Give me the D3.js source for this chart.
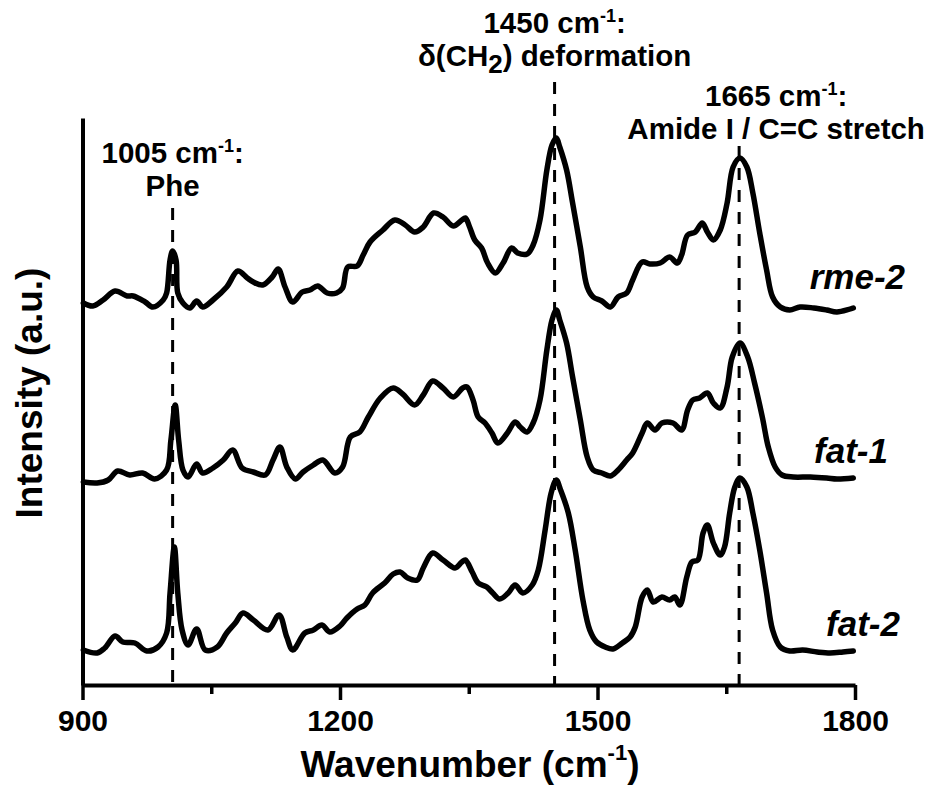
<!DOCTYPE html>
<html lang="en">
<head>
  <meta charset="utf-8">
  <title>Raman spectra</title>
  <style>
    body { margin: 0; background: #fff; }
    svg text { font-family: "Liberation Sans", Arial, Helvetica, sans-serif; font-weight: bold; fill: #000; }
  </style>
</head>
<body>
<div id="chart"></div>

<script src="https://cdn.jsdelivr.net/npm/d3@7"></script>
<script>
////////////////////////////////////////////////// DATA
// spectra are stacked with a vertical offset, intensity in arbitrary units
var seriesNames = ["rme-2", "fat-1", "fat-2"];
var xTicks = [900, 1200, 1500, 1800];
var xMinorTicks = [1050, 1350, 1650];
var bandWavenumbers = [1005, 1450, 1665];
var bandNames = ["Phe", "δ(CH_2) deformation", "Amide I / C=C stretch"];

var rme2 = [
  [901,38.2],[912,37.9],[924,38.5],[938,39.4],[952,38.9],[959,38.9],[973,38.3],[982,37.8],
  [994,38.5],[998,39.2],[1002,42.5],[1005,43.4],[1009,42.5],[1011,39.2],[1017,38.2],[1025,37.7],
  [1033,38.4],[1040,37.8],[1052,38.5],[1068,39.8],[1081,41.4],[1092,40.7],[1099,40.3],[1110,40.0],
  [1121,40.8],[1128,41.6],[1136,39.8],[1145,38.3],[1156,39.3],[1165,39.5],[1174,39.9],[1185,39.2],
  [1196,39.2],[1203,39.7],[1209,41.8],[1220,41.9],[1227,43.0],[1235,44.3],[1250,45.5],[1264,46.5],
  [1276,46.0],[1287,45.3],[1297,45.8],[1309,47.2],[1320,46.8],[1332,45.9],[1342,46.5],[1346,46.7],
  [1351,45.8],[1357,44.5],[1365,43.7],[1372,42.2],[1381,41.2],[1390,42.2],[1400,43.7],[1407,43.2],
  [1418,43.1],[1425,44.0],[1433,46.5],[1441,51.5],[1447,54.0],[1452,54.7],[1456,53.8],[1464,51.5],
  [1471,48.2],[1480,43.8],[1488,39.8],[1495,38.8],[1505,38.4],[1515,37.8],[1524,38.8],[1534,39.2],
  [1541,40.5],[1552,42.3],[1561,42.1],[1573,42.2],[1584,42.8],[1593,42.2],[1598,43.0],[1605,45.0],
  [1614,45.3],[1622,46.2],[1628,45.3],[1635,44.5],[1643,45.5],[1651,48.2],[1658,51.8],[1666,52.7],
  [1674,51.8],[1681,49.2],[1689,45.2],[1697,41.5],[1704,38.8],[1713,37.8],[1724,37.5],[1736,37.8],
  [1752,37.7],[1767,37.5],[1779,37.3],[1798,37.7]
];

var fat1 = [
  [901,20.3],[917,20.2],[930,20.5],[941,21.4],[955,21.0],[970,21.2],[984,20.6],[998,21.5],
  [1003,24.5],[1008,28.0],[1012,24.5],[1017,21.5],[1023,20.8],[1033,22.1],[1040,21.2],[1052,21.7],
  [1064,22.5],[1075,23.5],[1086,21.7],[1099,21.3],[1113,21.0],[1122,22.5],[1130,23.8],[1138,21.8],
  [1148,20.6],[1157,21.3],[1169,22.0],[1180,22.5],[1194,21.2],[1203,21.8],[1212,24.8],[1223,25.3],
  [1233,26.8],[1247,28.7],[1262,29.7],[1273,29.1],[1287,28.0],[1297,29.0],[1308,30.4],[1320,29.7],
  [1332,28.8],[1343,29.7],[1348,29.8],[1355,28.5],[1361,26.8],[1369,26.2],[1377,25.2],[1384,24.2],
  [1395,25.2],[1404,26.3],[1410,25.8],[1418,25.3],[1425,26.2],[1433,28.5],[1441,33.5],[1447,36.5],
  [1452,37.5],[1456,36.5],[1464,34.2],[1471,30.8],[1480,26.5],[1488,22.8],[1495,21.5],[1505,21.2],
  [1515,20.9],[1524,21.5],[1534,22.5],[1541,23.2],[1552,25.2],[1558,26.2],[1567,25.5],[1575,26.2],
  [1588,26.2],[1598,25.5],[1605,27.5],[1611,28.5],[1619,28.7],[1628,29.2],[1635,28.2],[1643,27.7],
  [1651,29.8],[1657,32.8],[1666,34.2],[1675,32.8],[1683,30.2],[1692,26.8],[1699,23.8],[1707,21.8],
  [1715,21.0],[1728,20.8],[1748,20.8],[1767,20.7],[1779,20.6],[1798,20.7]
];

var fat2 = [
  [901,3.5],[917,3.2],[926,3.7],[938,4.9],[947,4.3],[961,4.2],[975,3.4],[988,3.8],
  [998,5.2],[1002,9.2],[1007,13.8],[1011,9.2],[1016,5.5],[1023,4.0],[1033,5.6],[1043,3.5],
  [1057,3.8],[1068,5.2],[1078,6.2],[1087,7.2],[1099,6.5],[1116,5.5],[1129,7.0],[1138,4.8],
  [1145,3.5],[1159,5.2],[1169,5.5],[1179,6.0],[1188,5.3],[1200,5.9],[1208,6.7],[1220,7.6],
  [1229,8.0],[1238,9.2],[1252,10.2],[1262,11.1],[1270,11.3],[1279,10.7],[1290,10.5],[1297,11.7],
  [1308,13.2],[1320,12.5],[1334,11.7],[1342,12.3],[1346,12.5],[1354,11.3],[1361,10.2],[1371,9.8],
  [1378,9.2],[1386,8.6],[1396,9.2],[1404,10.0],[1413,9.2],[1424,10.0],[1431,11.5],[1439,15.5],
  [1446,19.2],[1452,20.5],[1457,19.5],[1466,17.2],[1474,13.5],[1483,8.5],[1491,5.5],[1499,4.3],
  [1509,3.8],[1518,3.6],[1529,4.2],[1538,4.8],[1544,5.8],[1552,8.8],[1558,9.5],[1565,8.3],
  [1575,8.8],[1584,8.5],[1590,8.8],[1596,8.0],[1604,10.8],[1610,12.3],[1617,12.5],[1623,15.2],
  [1628,16.0],[1635,14.2],[1643,13.0],[1648,13.8],[1654,17.2],[1660,19.8],[1666,20.7],[1674,19.8],
  [1681,17.2],[1689,13.5],[1697,9.2],[1704,5.5],[1713,3.8],[1724,3.4],[1739,3.5],[1756,3.3],
  [1771,3.2],[1786,3.3],[1798,3.4]
];

var spectra = [rme2, fat1, fat2];

////////////////////////////////////////////////// LAYOUT
var width = 930, height = 787;
var plotLeft = 82.5, plotRight = 855, plotTop = 118, plotBottom = 685;

// label placement (pixels)
var seriesLabelPos = [[905, 289], [888, 463], [900, 636]];
var bandLabelDx = [0, 0, 37];
var bandLabelBase = [163, 33, 106];   // baseline of first line
var bandLineTop = [208, 82, 146];     // where the dashed guide starts

////////////////////////////////////////////////// SETUP
var svg = d3.select("#chart").append("svg")
    .attr("width", width)
    .attr("height", height)
    .style("background", "#fff");

var x = d3.scaleLinear().domain([900, 1800]).range([plotLeft, plotRight]);
var y = d3.scaleLinear().domain([0, 56.7]).range([plotBottom, plotTop]);

// dashed guides
svg.append("g")
  .selectAll("line")
  .data(bandWavenumbers)
  .join("line")
    .attr("x1", d => x(d)).attr("x2", d => x(d))
    .attr("y1", (d, i) => bandLineTop[i])
    .attr("y2", plotBottom)
    .attr("stroke", "#000")
    .attr("stroke-width", 3)
    .attr("stroke-dasharray", "12,10");

// spectra
var line = d3.line()
    .x(d => x(d[0]))
    .y(d => y(d[1]))
    .curve(d3.curveCatmullRom.alpha(0.5));

svg.append("g")
  .selectAll("path")
  .data(spectra)
  .join("path")
    .attr("d", line)
    .attr("fill", "none")
    .attr("stroke", "#000")
    .attr("stroke-width", 5.5)
    .attr("stroke-linejoin", "round")
    .attr("stroke-linecap", "round");

// axes
var xAxis = svg.append("g")
    .attr("transform", `translate(0,${plotBottom})`)
    .call(d3.axisBottom(x).tickValues(xTicks).tickSize(15).tickSizeOuter(0)
      .tickPadding(10).tickFormat(d3.format("d")));

xAxis.select(".domain").attr("stroke-width", 4);
xAxis.selectAll(".tick line").attr("stroke-width", 3.5);
xAxis.selectAll(".tick text")
    .attr("font-size", 30)
    .style("font-family", "'Liberation Sans', Arial, sans-serif");

var xMinor = svg.append("g")
    .attr("transform", `translate(0,${plotBottom})`)
    .call(d3.axisBottom(x).tickValues(xMinorTicks).tickSize(9).tickFormat(""));
xMinor.select(".domain").remove();
xMinor.selectAll(".tick line").attr("stroke-width", 3.5);

var yAxis = svg.append("g")
    .attr("transform", `translate(${plotLeft},0)`)
    .call(d3.axisLeft(y).tickValues([]).tickSizeOuter(0));
yAxis.select(".domain").attr("stroke-width", 4);

// axis titles
var xTitle = svg.append("text")
    .attr("x", 470)
    .attr("y", 777)
    .attr("text-anchor", "middle")
    .attr("font-size", 37);
xTitle.append("tspan").text("Wavenumber (cm");
xTitle.append("tspan").attr("font-size", 22).attr("dy", -17).text("-1");
xTitle.append("tspan").attr("dy", 17).text(")");

svg.append("text")
    .attr("transform", "translate(42,393) rotate(-90)")
    .attr("text-anchor", "middle")
    .attr("font-size", 37)
    .text("Intensity (a.u.)");

// band annotations
bandWavenumbers.forEach(function(wn, i) {
  var cx = x(wn) + bandLabelDx[i];
  var base = bandLabelBase[i];

  var t1 = svg.append("text")
      .attr("x", cx).attr("y", base)
      .attr("text-anchor", "middle")
      .attr("font-size", 29.5);
  t1.append("tspan").text(wn + " cm");
  t1.append("tspan").attr("font-size", 18).attr("dy", -11).text("-1");
  t1.append("tspan").attr("dy", 11).text(":");

  var t2 = svg.append("text")
      .attr("x", cx).attr("y", base + 33)
      .attr("text-anchor", "middle")
      .attr("font-size", 29.5);
  var shift = 0;
  bandNames[i].split(/_(\d)/).forEach(function(part, j) {
    if (j % 2 === 1) {
      t2.append("tspan").attr("font-size", 26).attr("dy", 7).text(part);
      shift = -7;
    } else if (part) {
      t2.append("tspan").attr("dy", shift).text(part);
      shift = 0;
    }
  });
});

// series labels
svg.append("g")
  .selectAll("text")
  .data(seriesNames)
  .join("text")
    .attr("x", (d, i) => seriesLabelPos[i][0])
    .attr("y", (d, i) => seriesLabelPos[i][1])
    .attr("text-anchor", "end")
    .attr("font-size", 35)
    .attr("font-style", "italic")
    .text(d => d);
</script>
</body>
</html>
